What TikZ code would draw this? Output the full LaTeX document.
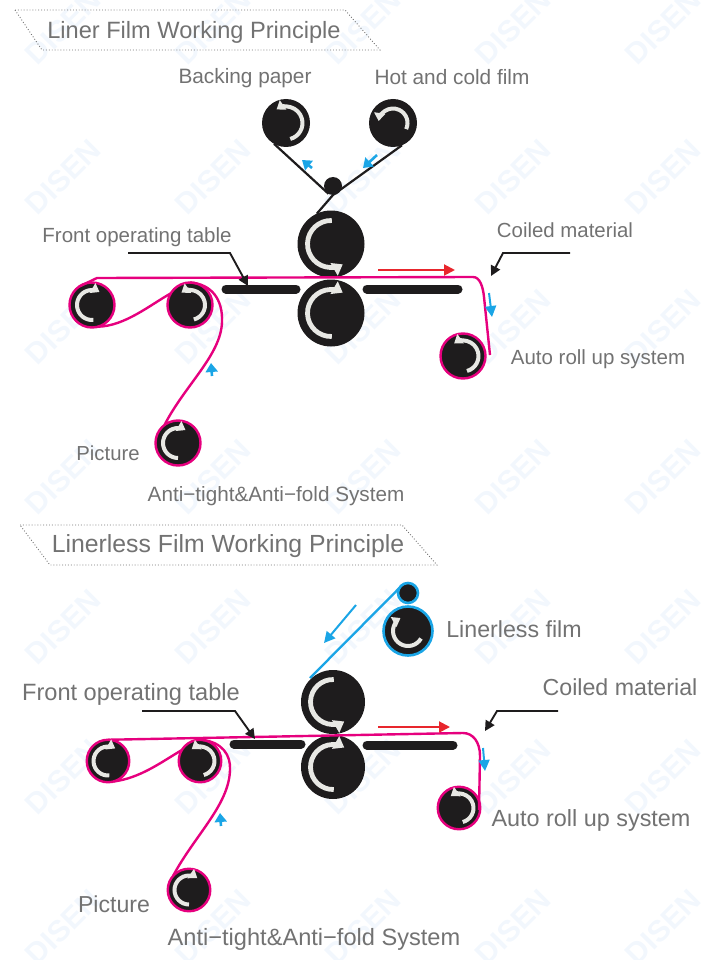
\documentclass[tikz,border=0pt]{standalone}
\usepackage{fontspec}
\setmainfont{Liberation Sans}
\usetikzlibrary{arrows.meta,calc}
\definecolor{rollk}{HTML}{1E1C1D}
\definecolor{mag}{HTML}{E6007E}
\definecolor{sky}{HTML}{1AA5E6}
\definecolor{redarr}{HTML}{E8262D}
\definecolor{wm}{HTML}{F2F7FD}
\definecolor{lab}{HTML}{727272}
\definecolor{turnc}{HTML}{E8E8E4}
\tikzset{
  x=1pt,y=-1pt,
  roller/.style={circle,inner sep=0pt,outer sep=0pt,fill=rollk,minimum size=#1},
  magroller/.style={roller=#1,draw=mag,line width=2.4pt},
  skyroller/.style={roller=#1,draw=sky,line width=2.6pt},
  bar/.style={line width=9pt,line cap=round,draw=rollk},
  turn/.style={draw=turnc,line width=4pt,-{Triangle[length=8pt,width=11pt]}},
  turnbig/.style={draw=turnc,line width=4.8pt,-{Triangle[length=10pt,width=14pt]}},
  belt/.style={draw=mag,line width=2.4pt,line join=round},
  film/.style={draw=rollk,line width=2.2pt},
  skyfilm/.style={draw=sky,line width=2.3pt},
  pointer/.style={draw=rollk,line width=1.9pt,-{Triangle[length=10pt,width=10pt]}},
  redflow/.style={draw=redarr,line width=2pt,-{Triangle[length=11pt,width=11pt]}},
  skyflow/.style={draw=sky,line width=2pt,-{Triangle[length=11pt,width=11pt]}},
  skyfat/.style={draw=sky,line width=2.6pt,-{Triangle[length=9pt,width=12pt]}},
  lbl/.style={text=lab,inner sep=0pt,font=\fontsize{#1}{#1}\selectfont},
  frame/.style={draw=black!55,line width=0.9pt,dotted},
  wmark/.style={text=wm,rotate=45,font=\bfseries\fontsize{30}{30}\selectfont}
}
\newcommand{\turnarc}[5]{\draw[#1] (#2.center) ++(#4:#3) arc[start angle=#4,end angle=#5,radius=#3];}
\begin{document}
\begin{tikzpicture}
\useasboundingbox (0,0) rectangle (722,960);
\begin{scope}
\clip (0,0) rectangle (722,960);
\foreach \yy in {27,177,327,477,627,777,927}
  \foreach \xx in {63,213,363,513,663}
    \node[wmark] at (\xx,\yy) {DISEN};
\end{scope}

%% ---------- top diagram ----------
\coordinate (f1a) at (15,10); \coordinate (f1b) at (345,10);
\coordinate (f1c) at (380,50); \coordinate (f1d) at (42,50);
\draw[frame] (f1a) -- (f1b) -- (f1c) -- (f1d) -- cycle;
\node[lbl=23.6] (t1) at (194,32.5) {Liner Film Working Principle};
\node[lbl=20.8] (l1) at (245,78.5) {Backing paper};
\node[lbl=20.8] (l2) at (452,77.5) {Hot and cold film};
\node[lbl=20.5] (l3) at (137,237.5) {Front operating table};
\node[lbl=20.4] (l4) at (565,230.5) {Coiled material};
\node[lbl=20.5] (l5) at (598,359.5) {Auto roll up system};
\node[lbl=20.3] (l6) at (108,453) {Picture};
\node[lbl=20.7] (l7) at (276,496.5) {Anti−tight\&Anti−fold System};

\node[roller=48pt] (bp) at (286,123) {};
\node[roller=48pt] (hc) at (393,123) {};
\node[roller=18pt] (sm) at (333,186) {};
\node[roller=67pt] (mu) at (331,244) {};
\node[roller=67pt] (ml) at (331,313) {};
\node[magroller=45pt] (r1) at (92,305) {};
\node[magroller=45pt] (r2) at (190,305) {};
\node[magroller=45pt] (pc) at (178,443) {};
\node[magroller=45pt] (au) at (463,356) {};

\coordinate (ta) at (226,289); \coordinate (tb) at (296,289);
\coordinate (tc) at (367,289); \coordinate (td) at (458,289);
\draw[bar] (ta) -- (tb); \draw[bar] (tc) -- (td);

\draw[film] (bp.240) -- (sm.240);
\draw[film] (hc.-68) -- (sm.south) -- (mu.115);

\coordinate (b2) at (97,278);
\coordinate (b3) at (473,277); \coordinate (b4) at (490,355);
\draw[belt] (r1.125) -- (b2) -- (b3) .. controls (480,277) and (483,287) .. (484,297) -- (b4);
\draw[belt] (r1.-75) .. controls (125,326) and (150,305) .. (r2.149);
\draw[belt] (r2.north) .. controls (212,284) and (223,300) .. (222,322)
  .. controls (221,355) and (185,385) .. (pc.127);

\turnarc{turn}{bp}{16.5}{75}{-125}
\turnarc{turn}{hc}{14.5}{25}{-172}
\turnarc{turnbig}{mu}{23.5}{272}{60}
\turnarc{turnbig}{ml}{23.5}{88}{300}
\turnarc{turn}{r1}{15}{85}{300}
\turnarc{turn}{r2}{15}{75}{-125}
\turnarc{turn}{pc}{15}{90}{300}
\turnarc{turn}{au}{15.5}{75}{-125}

\coordinate (p1a) at (128,253); \coordinate (p1b) at (230,253); \coordinate (p1c) at (248,286);
\draw[pointer] (p1a) -- (p1b) -- (p1c);
\coordinate (p2a) at (570,253); \coordinate (p2b) at (503,253); \coordinate (p2c) at (491,276);
\draw[pointer] (p2a) -- (p2b) -- (p2c);
\coordinate (a1a) at (378,270); \coordinate (a1b) at (455,270);
\draw[redflow] (a1a) -- (a1b);
\coordinate (a2a) at (489,293); \coordinate (a2b) at (492,317);
\draw[skyflow] (a2a) -- (a2b);
\coordinate (a3a) at (212,376); \coordinate (a3b) at (211,363);
\draw[skyfat] (a3a) -- (a3b);
\coordinate (a4a) at (312,168); \coordinate (a4b) at (302,160);
\draw[skyfat] (a4a) -- (a4b);
\coordinate (a5a) at (377,155); \coordinate (a5b) at (363,168);
\draw[skyfat] (a5a) -- (a5b);

%% ---------- bottom diagram ----------
\coordinate (f2a) at (20,525); \coordinate (f2b) at (402,525);
\coordinate (f2c) at (437,565); \coordinate (f2d) at (50,565);
\draw[frame] (f2a) -- (f2b) -- (f2c) -- (f2d) -- cycle;
\node[lbl=24.8] (t2) at (228,546.5) {Linerless Film Working Principle};
\node[lbl=23.2] (m1) at (514,629.5) {Linerless film};
\node[lbl=23.6] (m2) at (131,694.5) {Front operating table};
\node[lbl=23.2] (m3) at (620,687.5) {Coiled material};
\node[lbl=23.4] (m4) at (591,820.5) {Auto roll up system};
\node[lbl=23.1] (m5) at (114,904) {Picture};
\node[lbl=23.6] (m6) at (314,939.5) {Anti−tight\&Anti−fold System};

\node[skyroller=20pt] (ls) at (408,593) {};
\node[skyroller=49pt] (lf) at (408,631) {};
\node[roller=64pt] (nu) at (333,702) {};
\node[roller=64pt] (nl) at (333,767) {};
\node[magroller=42.5pt] (s1) at (108,761) {};
\node[magroller=42.5pt] (s2) at (200,761) {};
\node[magroller=42.5pt] (sp) at (189,890) {};
\node[magroller=42.5pt] (sa) at (459,808) {};

\coordinate (ua) at (234,744); \coordinate (ub) at (301,744);
\coordinate (uc) at (367,745); \coordinate (ud) at (453,745);
\draw[bar] (ua) -- (ub); \draw[bar] (uc) -- (ud);

\coordinate (g0) at (310,678);
\draw[skyfilm] (g0) -- (ls.150);

\coordinate (c2) at (463,733); \coordinate (c3) at (479,810);
\draw[belt] (s1.north) -- (c2) .. controls (473,733) and (480,742) .. (480,756) -- (c3);
\draw[belt] (s1.-75) .. controls (140,778) and (160,763) .. (s2.149);
\draw[belt] (s2.85) .. controls (222,742) and (231,755) .. (230,770)
  .. controls (229,805) and (195,835) .. (sp.139);

\turnarc{turn}{lf}{15}{30}{240}
\turnarc{turnbig}{nu}{22.5}{272}{60}
\turnarc{turnbig}{nl}{22.5}{88}{300}
\turnarc{turn}{s1}{14.5}{85}{300}
\turnarc{turn}{s2}{14.5}{75}{-125}
\turnarc{turn}{sp}{14.5}{90}{305}
\turnarc{turn}{sa}{14.5}{75}{-125}

\coordinate (q1a) at (142,711); \coordinate (q1b) at (235,711); \coordinate (q1c) at (255,739);
\draw[pointer] (q1a) -- (q1b) -- (q1c);
\coordinate (q2a) at (558,711); \coordinate (q2b) at (497,711); \coordinate (q2c) at (485,731);
\draw[pointer] (q2a) -- (q2b) -- (q2c);
\coordinate (d1a) at (378,727); \coordinate (d1b) at (450,727);
\draw[redflow] (d1a) -- (d1b);
\coordinate (d2a) at (483,748); \coordinate (d2b) at (485,771);
\draw[skyflow] (d2a) -- (d2b);
\coordinate (d3a) at (221,826); \coordinate (d3b) at (220,813);
\draw[skyfat] (d3a) -- (d3b);
\coordinate (d4a) at (356,605); \coordinate (d4b) at (324,643);
\draw[skyflow] (d4a) -- (d4b);
\end{tikzpicture}
\end{document}
